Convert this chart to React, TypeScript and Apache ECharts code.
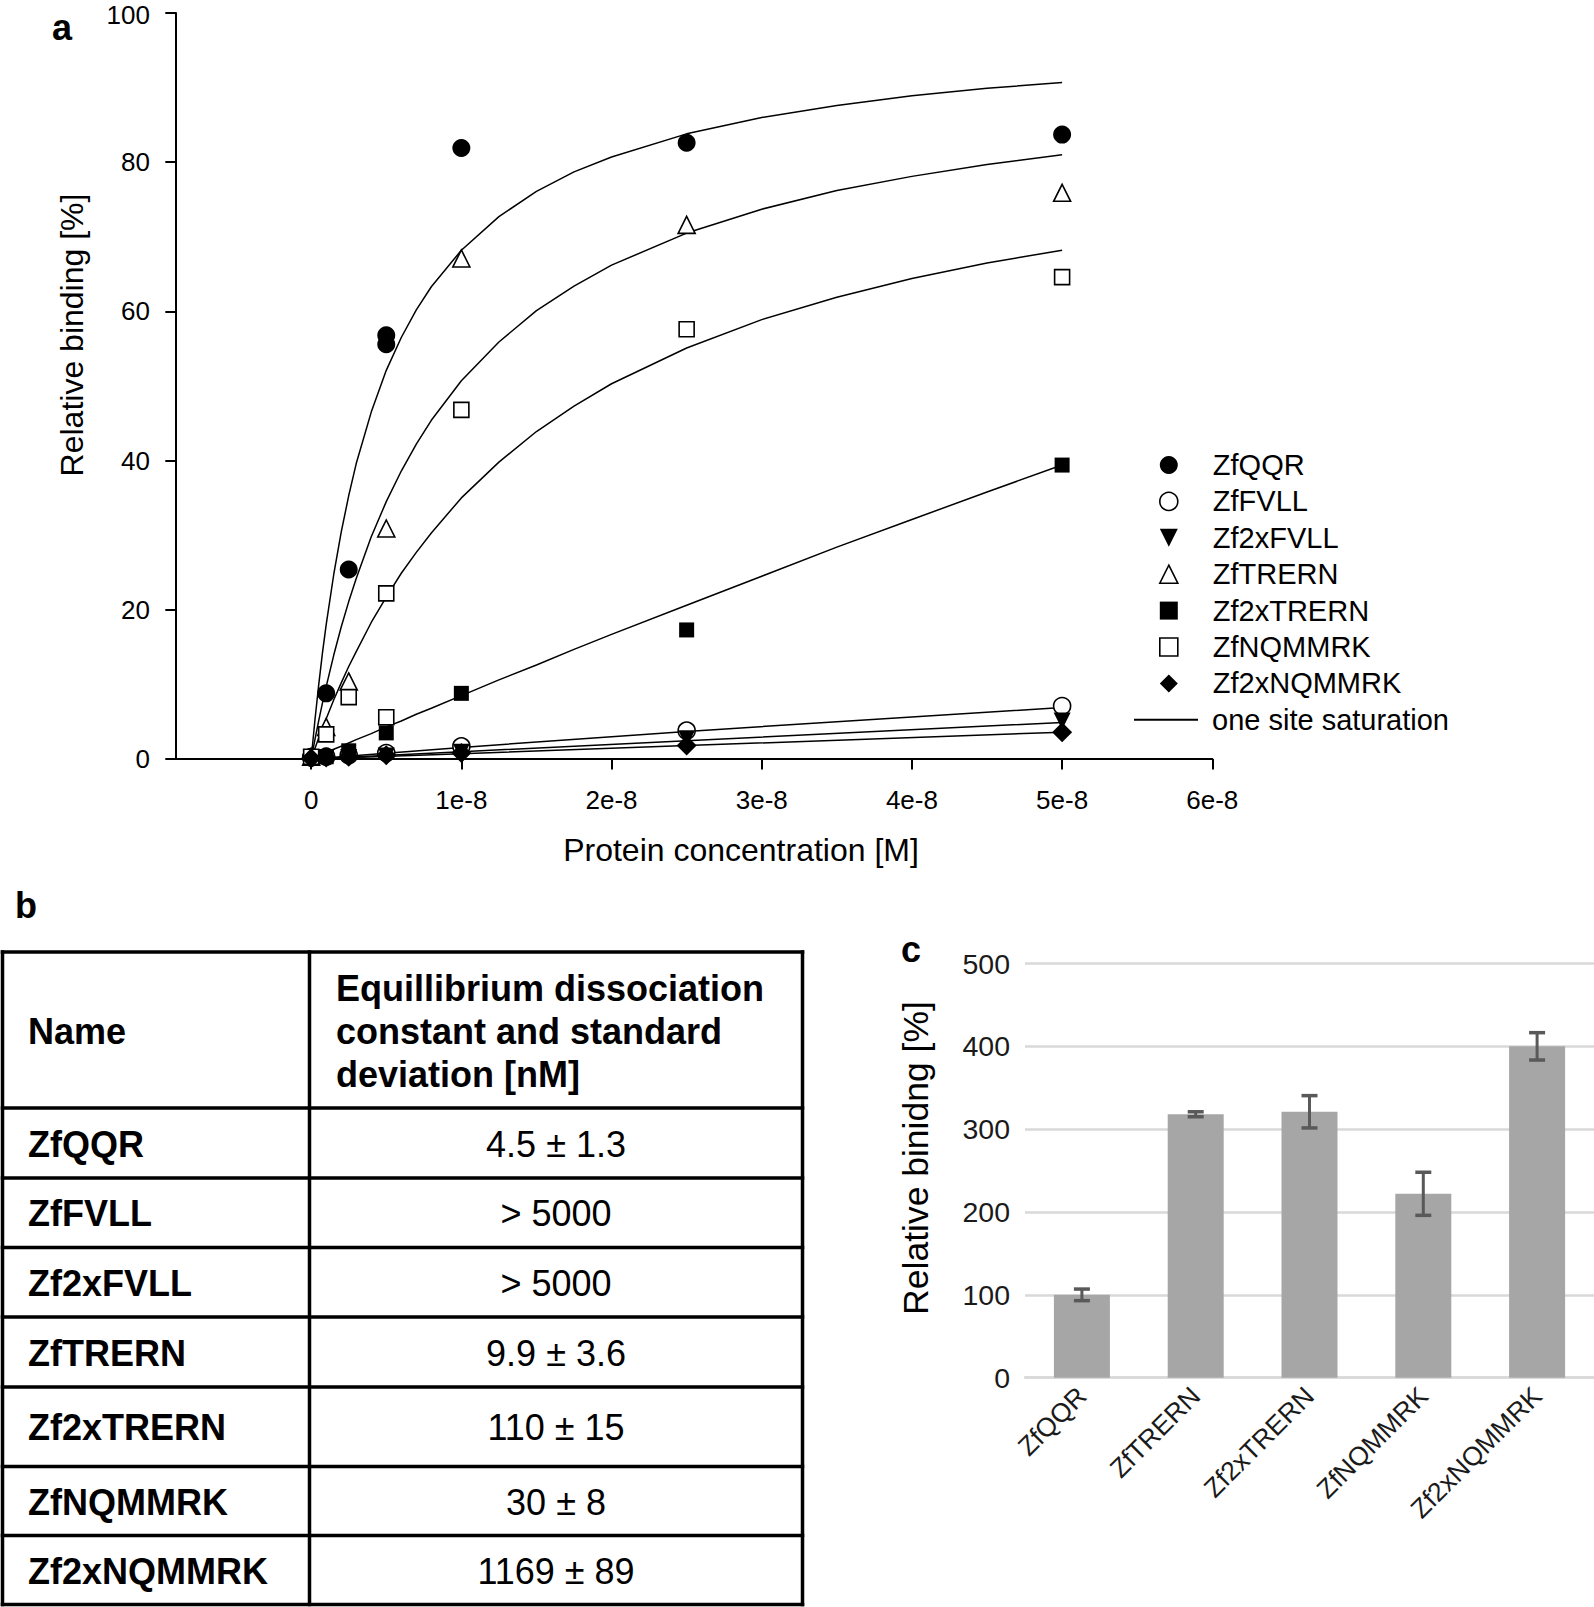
import React, { useEffect, useRef } from 'react';
import * as echarts from 'echarts';

const FONT = "'Liberation Sans', Arial, Helvetica, sans-serif";

// ---------- Panel a : binding data ----------
const concentrationsM = [0, 1e-9, 2.5e-9, 5e-9, 1e-8, 2.5e-8, 5e-8];
const bindingZfQQR = [0.3, 8.8, 25.4, 56.8, 81.9, 82.6, 83.7];
const bindingZfFVLL = [0.2, 0.3, 0.5, 0.8, 1.7, 3.8, 7.1];
const bindingZf2xFVLL = [0.1, 0.2, 0.2, 0.4, 0.9, 2.7, 5.1];
const bindingZfTRERN = [0.3, 4.3, 10.4, 30.9, 67.1, 71.6, 75.9];
const bindingZf2xTRERN = [0.2, 0.3, 1.1, 3.5, 8.8, 17.3, 39.4];
const bindingZfNQMMRK = [0.3, 3.3, 8.3, 22.2, 46.8, 57.6, 64.6];
const bindingZf2xNQMMRK = [0.1, 0.2, 0.3, 0.5, 0.8, 1.8, 3.6];
// duplicate measurements at the same concentration
const extraZfQQR = [[5e-9, 55.6]];
const extraZfNQMMRK = [[5e-9, 5.6]];

// one site saturation fit curves, x in nM
const fitConcNM = [0, 0.25, 0.5, 0.75, 1, 1.5, 2, 2.5, 3, 4, 5, 6, 7, 8, 10, 12.5, 15, 17.5, 20, 25, 30, 35, 40, 45, 50];
const fitZfQQR = [0, 5.2, 9.9, 14.2, 18.0, 24.7, 30.4, 35.3, 39.6, 46.5, 52.1, 56.5, 60.2, 63.3, 68.2, 72.7, 76.1, 78.7, 80.7, 83.8, 86.0, 87.6, 88.9, 89.9, 90.7];
const fitZfTRERN = [0, 2.6, 5.1, 7.5, 9.7, 13.9, 17.7, 21.1, 24.2, 29.8, 34.5, 38.6, 42.2, 45.4, 50.7, 55.9, 60.1, 63.4, 66.2, 70.5, 73.7, 76.2, 78.1, 79.7, 81.0];
const fitZfNQMMRK = [0, 1.4, 2.8, 4.1, 5.4, 7.9, 10.2, 12.4, 14.4, 18.3, 21.7, 24.9, 27.7, 30.3, 35.0, 39.8, 43.9, 47.3, 50.3, 55.1, 58.9, 61.9, 64.4, 66.5, 68.2];
const fitZf2xTRERN = [0, 0.2, 0.4, 0.65, 0.9, 1.3, 1.7, 2.15, 2.6, 3.4, 4.3, 5.1, 6.0, 6.8, 8.5, 10.6, 12.6, 14.7, 16.7, 20.6, 24.5, 28.4, 32.1, 35.8, 39.4];
const lineFitConcNM = [0, 10, 25, 50];
const fitZfFVLL = [0, 1.55, 3.7, 6.9];
const fitZf2xFVLL = [0, 0.98, 2.45, 4.9];
const fitZf2xNQMMRK = [0, 0.72, 1.8, 3.6];

const xTickValues = [0, 1e-8, 2e-8, 3e-8, 4e-8, 5e-8, 6e-8];
const fitLegendName = 'one site saturation';

// ---------- Panel b : table ----------
const tableHeaderName = 'Name';
const tableHeaderKd = ['Equillibrium dissociation', 'constant and standard', 'deviation [nM]'];
const tableNames = ['ZfQQR', 'ZfFVLL', 'Zf2xFVLL', 'ZfTRERN', 'Zf2xTRERN', 'ZfNQMMRK', 'Zf2xNQMMRK'];
const tableKd = ['4.5 ± 1.3', '> 5000', '> 5000', '9.9 ± 3.6', '110 ± 15', '30 ± 8', '1169 ± 89'];

// ---------- Panel c : bars ----------
const barCategories = ['ZfQQR', 'ZfTRERN', 'Zf2xTRERN', 'ZfNQMMRK', 'Zf2xNQMMRK'];
const barValues = [100, 318, 321, 222, 400];
const barErrors = [7, 3, 19.5, 26, 16.5];

const DOWN_TRIANGLE = 'path://M0,0 L10,0 L5,10 Z';

type Spec = { name: string; values: number[]; extra: number[][]; symbol: string; size: number | number[]; open: boolean; rotate: number; legendIcon?: string };
const markerSpecs: Spec[] = [
  { name: 'ZfQQR', values: bindingZfQQR, extra: extraZfQQR, symbol: 'circle', size: 18, open: false, rotate: 0 },
  { name: 'ZfFVLL', values: bindingZfFVLL, extra: [], symbol: 'circle', size: 17, open: true, rotate: 0 },
  { name: 'Zf2xFVLL', values: bindingZf2xFVLL, extra: [], symbol: 'triangle', size: 17, open: false, rotate: 180, legendIcon: DOWN_TRIANGLE },
  { name: 'ZfTRERN', values: bindingZfTRERN, extra: [], symbol: 'triangle', size: 17, open: true, rotate: 0 },
  { name: 'Zf2xTRERN', values: bindingZf2xTRERN, extra: [], symbol: 'rect', size: 15, open: false, rotate: 0 },
  { name: 'ZfNQMMRK', values: bindingZfNQMMRK, extra: extraZfNQMMRK, symbol: 'rect', size: 15, open: true, rotate: 0 },
  { name: 'Zf2xNQMMRK', values: bindingZf2xNQMMRK, extra: [], symbol: 'diamond', size: 20, open: false, rotate: 0 },
];
const fitCurves = [
  { x: fitConcNM, y: fitZfQQR },
  { x: lineFitConcNM, y: fitZfFVLL },
  { x: lineFitConcNM, y: fitZf2xFVLL },
  { x: fitConcNM, y: fitZfTRERN },
  { x: fitConcNM, y: fitZf2xTRERN },
  { x: fitConcNM, y: fitZfNQMMRK },
  { x: lineFitConcNM, y: fitZf2xNQMMRK },
];

function txt(text: string, x: number, y: number, size: number, opts: any = {}) {
  return {
    type: 'text',
    x,
    y,
    rotation: opts.rotation || 0,
    silent: true,
    style: {
      text,
      fontSize: size,
      fontFamily: FONT,
      fontWeight: opts.bold ? 'bold' : 'normal',
      fill: opts.color || '#000',
      align: opts.align || 'center',
      verticalAlign: 'middle',
    },
  };
}
function ln(x1: number, y1: number, x2: number, y2: number, w = 3.5) {
  return { type: 'line', silent: true, shape: { x1, y1, x2, y2 }, style: { stroke: '#000', lineWidth: w } };
}

function buildOption() {
  const openStyle = { color: '#fff', borderColor: '#000', borderWidth: 1.6, opacity: 1 };
  const filledStyle = { color: '#000', borderColor: '#000', borderWidth: 0, opacity: 1 };

  const lineSeries = fitCurves.map((c) => ({
    type: 'line',
    name: fitLegendName,
    xAxisIndex: 0,
    yAxisIndex: 0,
    data: c.x.map((v, i) => [v * 1e-9, c.y[i]]),
    symbol: 'none',
    showSymbol: false,
    smooth: false,
    lineStyle: { color: '#000', width: 1.5 },
    itemStyle: { color: '#000' },
    z: 2,
  }));

  const scatterSeries = markerSpecs.map((s) => ({
    type: 'scatter',
    name: s.name,
    xAxisIndex: 0,
    yAxisIndex: 0,
    data: concentrationsM.map((c, i) => [c, s.values[i]]).concat(s.extra),
    symbol: s.symbol,
    symbolSize: s.size,
    symbolRotate: s.rotate,
    itemStyle: s.open ? openStyle : filledStyle,
    clip: false,
    z: 3,
  }));

  const markerLegendData: any[] = markerSpecs.map((s) => {
    const item: any = { name: s.name, itemStyle: s.open ? openStyle : filledStyle };
    if (s.legendIcon) item.icon = s.legendIcon;
    return item;
  });

  // table graphics
  const rowLines = [952, 1108, 1178, 1247.5, 1317, 1387, 1466.5, 1535.5, 1604.5];
  const colLeft = 2.5, colMid = 309.5, colRight = 802.5;
  const tableEls: any[] = [];
  rowLines.forEach((y) => tableEls.push(ln(colLeft - 1.75, y, colRight + 1.75, y)));
  [colLeft, colMid, colRight].forEach((x) => tableEls.push(ln(x, rowLines[0] - 1.75, x, rowLines[rowLines.length - 1] + 1.75)));
  tableEls.push(txt(tableHeaderName, 28, 1031, 36, { bold: true, align: 'left' }));
  tableHeaderKd.forEach((t, i) => tableEls.push(txt(t, 336, 988 + i * 43, 36, { bold: true, align: 'left' })));
  tableNames.forEach((n, i) => {
    const yc = (rowLines[i + 1] + rowLines[i + 2]) / 2 + 1;
    tableEls.push(txt(n, 28, yc, 36, { bold: true, align: 'left' }));
    tableEls.push(txt(tableKd[i], 556, yc, 36, { align: 'center' }));
  });

  const graphicEls: any[] = [
    txt('a', 62, 27, 36, { bold: true }),
    txt('b', 26, 905, 36, { bold: true }),
    txt('c', 911, 949, 36, { bold: true }),
    txt('Relative binding [%]', 72, 335, 32, { rotation: Math.PI / 2 }),
    txt('Protein concentration [M]', 741, 850, 32),
    txt('Relative binidng [%]', 916, 1158, 35.5, { rotation: Math.PI / 2 }),
    ...tableEls,
  ];

  const legendText = { fontSize: 29, fontFamily: FONT, color: '#000', lineHeight: 30 };

  return {
    animation: false,
    backgroundColor: '#fff',
    textStyle: { fontFamily: FONT },
    grid: [
      { left: 176, top: 13, width: 1036.3, height: 746, containLabel: false },
      { left: 1025, top: 963.5, width: 569, height: 414.2, containLabel: false },
    ],
    legend: [
      {
        orient: 'vertical',
        left: 1154,
        top: 445,
        itemWidth: 18,
        itemHeight: 18,
        itemGap: 6.4,
        selectedMode: false,
        symbolKeepAspect: true,
        textStyle: { ...legendText, padding: [0, 0, 0, 30] },
        data: markerLegendData,
      },
      {
        orient: 'vertical',
        left: 1129,
        top: 445 + 7 * 36.4,
        itemWidth: 64,
        itemHeight: 2,
        selectedMode: false,
        textStyle: { ...legendText, padding: [0, 0, 0, 9] },
        data: [{ name: fitLegendName, icon: 'rect', itemStyle: { color: '#000', borderWidth: 0 } }],
      },
    ],
    xAxis: [
      {
        type: 'value',
        gridIndex: 0,
        min: -9e-9,
        max: 6e-8,
        splitLine: { show: false },
        axisLine: { show: true, onZero: false, lineStyle: { color: '#000', width: 2 } },
        axisTick: { show: true, length: 10.5, lineStyle: { color: '#000', width: 2 }, customValues: xTickValues },
        axisLabel: {
          customValues: xTickValues,
          margin: 28,
          fontSize: 26,
          fontFamily: FONT,
          color: '#000',
          formatter: (v: number) => {
            const n = Math.round(v * 1e8);
            return n === 0 ? '0' : n + 'e-8';
          },
        },
      },
      {
        type: 'category',
        gridIndex: 1,
        data: barCategories,
        axisLine: { show: true, lineStyle: { color: '#d9d9d9', width: 2.5 } },
        axisTick: { show: false },
        axisLabel: { rotate: 45, margin: 14, fontSize: 26.5, fontFamily: FONT, color: '#1a1a1a', interval: 0 },
      },
    ],
    yAxis: [
      {
        type: 'value',
        gridIndex: 0,
        min: 0,
        max: 100,
        interval: 20,
        splitLine: { show: false },
        axisLine: { show: true, onZero: false, lineStyle: { color: '#000', width: 2 } },
        axisTick: { show: true, length: 10.7, lineStyle: { color: '#000', width: 2 } },
        axisLabel: {
          margin: 26,
          fontSize: 26,
          fontFamily: FONT,
          color: '#000',
          formatter: (v: number) => (v === 100 ? '{top|100}' : String(v)),
          rich: { top: { fontSize: 26, fontFamily: FONT, color: '#000', padding: [4, 0, 0, 0] } },
        },
      },
      {
        type: 'value',
        gridIndex: 1,
        min: 0,
        max: 500,
        interval: 100,
        splitLine: { show: true, lineStyle: { color: '#d9d9d9', width: 2.5 } },
        axisLine: { show: false },
        axisTick: { show: false },
        axisLabel: { margin: 15, fontSize: 28.5, fontFamily: FONT, color: '#1a1a1a' },
      },
    ],
    series: [
      ...lineSeries,
      ...scatterSeries,
      {
        type: 'bar',
        name: 'Relative binidng',
        xAxisIndex: 1,
        yAxisIndex: 1,
        data: barValues,
        barWidth: 56,
        itemStyle: { color: '#a6a6a6' },
        z: 2,
      },
      {
        type: 'custom',
        name: 'error',
        xAxisIndex: 1,
        yAxisIndex: 1,
        data: barCategories.map((_, i) => [i, barValues[i] - barErrors[i], barValues[i] + barErrors[i]]),
        encode: { x: 0, y: [1, 2] },
        z: 3,
        renderItem: (params: any, api: any) => {
          const xi = api.value(0);
          const pLo = api.coord([xi, api.value(1)]);
          const pHi = api.coord([xi, api.value(2)]);
          const half = 8;
          const style = { stroke: '#595959', lineWidth: 3 };
          return {
            type: 'group',
            children: [
              { type: 'line', shape: { x1: pLo[0], y1: pLo[1], x2: pHi[0], y2: pHi[1] }, style },
              { type: 'line', shape: { x1: pLo[0] - half, y1: pLo[1], x2: pLo[0] + half, y2: pLo[1] }, style: { ...style, lineWidth: 3.5 } },
              { type: 'line', shape: { x1: pHi[0] - half, y1: pHi[1], x2: pHi[0] + half, y2: pHi[1] }, style: { ...style, lineWidth: 3.5 } },
            ],
          };
        },
      },
    ],
    graphic: { elements: graphicEls },
  };
}

export default function App() {
  const ref = useRef<HTMLDivElement>(null);
  useEffect(() => {
    document.body.style.margin = '0';
    if (!ref.current) return;
    const chart = echarts.init(ref.current, undefined, { renderer: 'svg' });
    chart.setOption(buildOption() as any);
    return () => chart.dispose();
  }, []);
  return <div ref={ref} style={{ width: 1594, height: 1607, background: '#fff' }} />;
}
